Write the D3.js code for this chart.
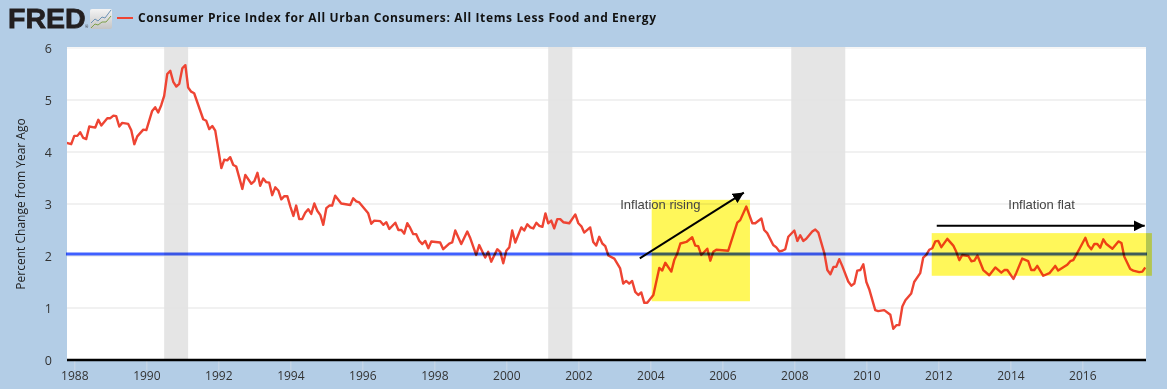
<!DOCTYPE html>
<html><head><meta charset="utf-8">
<script src="https://cdn.jsdelivr.net/npm/d3@7"></script>
<style>
html,body{margin:0;padding:0;background:#b3cde6;overflow:hidden}
svg{display:block;isolation:isolate}
text{font-family:"Open Sans",sans-serif}
</style></head><body><div id="c"></div>
<script>
// months since Jan 1988 for each vertex
const monthOffsets=[-3,-1,0,1,2,3,4,5,7,8,9,11,12,13,14,15,16,18,19,20,21,23,24,26,27,28,29,30,31,32,33,34,35,36,37,38,39,40,43,44,45,46,47,49,50,51,52,53,54,56,57,59,60,61,62,63,64,65,66,67,68,69,70,71,72,73,74,75,76,77,78,79,80,81,82,83,84,85,86,87,89,92,93,94,95,98,99,100,102,103,104,105,107,108,109,110,111,112,113,114,115,116,117,118,119,122,123,125,126,127,129,131,132,134,135,137,138,139,141,142,143,144,145,146,147,149,150,151,152,153,154,155,156,157,158,159,160,161,162,163,165,167,168,169,170,172,173,174,175,176,177,178,180,182,183,184,185,186,187,188,189,190,191,193,195,196,197,199,200,201,202,204,206,207,208,209,211,212,213,214,218,221,222,224,226,227,229,230,231,233,234,235,236,237,238,240,241,242,243,244,246,247,248,250,251,252,253,254,255,256,258,259,260,261,262,263,264,265,267,268,270,272,273,274,275,276,277,279,280,282,283,284,285,286,287,288,289,291,293,294,295,296,298,299,300,301,303,305,307,309,310,311,313,314,316,318,319,320,321,323,325,327,328,331,332,333,335,337,338,339,340,341,342,343,344,346,348,349,350,352,353,355,356,357];
const cpiValues=[4.18,4.15,4.31,4.31,4.38,4.27,4.25,4.49,4.47,4.62,4.51,4.65,4.65,4.70,4.69,4.49,4.56,4.54,4.42,4.15,4.30,4.43,4.42,4.79,4.86,4.76,4.90,5.08,5.50,5.56,5.35,5.26,5.31,5.61,5.67,5.24,5.16,5.13,4.63,4.60,4.44,4.50,4.41,3.69,3.85,3.84,3.90,3.75,3.72,3.29,3.56,3.39,3.44,3.60,3.35,3.49,3.42,3.41,3.17,3.32,3.26,3.09,3.15,3.15,2.95,2.77,2.97,2.71,2.71,2.83,2.90,2.81,3.01,2.87,2.79,2.60,2.92,2.97,2.97,3.16,3.01,2.98,3.11,3.05,3.03,2.82,2.62,2.68,2.67,2.60,2.65,2.52,2.64,2.50,2.50,2.43,2.63,2.54,2.42,2.42,2.29,2.23,2.29,2.15,2.28,2.26,2.13,2.24,2.26,2.49,2.23,2.47,2.34,2.02,2.21,1.97,2.08,1.89,2.13,2.08,1.86,2.10,2.17,2.49,2.26,2.55,2.49,2.61,2.55,2.53,2.64,2.58,2.56,2.82,2.63,2.68,2.53,2.71,2.71,2.65,2.63,2.80,2.63,2.57,2.45,2.55,2.27,2.20,2.37,2.24,2.19,2.01,1.95,1.76,1.47,1.52,1.47,1.52,1.31,1.25,1.30,1.10,1.10,1.25,1.77,1.72,1.87,1.70,1.93,2.05,2.24,2.27,2.36,2.20,2.19,2.02,2.14,1.91,2.08,2.12,2.10,2.64,2.69,2.95,2.63,2.63,2.72,2.50,2.44,2.21,2.17,2.09,2.10,2.13,2.37,2.49,2.29,2.40,2.29,2.33,2.47,2.51,2.45,2.05,1.73,1.65,1.79,1.79,1.94,1.81,1.51,1.43,1.47,1.72,1.73,1.84,1.50,1.35,0.96,0.94,0.96,0.87,0.60,0.67,0.67,1.03,1.15,1.28,1.50,1.67,1.97,2.02,2.12,2.15,2.28,2.29,2.17,2.33,2.20,2.08,1.92,2.02,2.00,1.90,1.91,2.01,1.73,1.63,1.78,1.68,1.73,1.73,1.56,1.67,1.95,1.90,1.73,1.73,1.81,1.62,1.67,1.81,1.72,1.83,1.90,1.92,2.13,2.35,2.20,2.13,2.23,2.23,2.16,2.32,2.23,2.14,2.28,2.25,1.99,1.75,1.72,1.69,1.70,1.78];
const recessions=[["1990-07-01","1991-03-01"],["2001-03-01","2001-11-01"],["2007-12-01","2009-06-01"]];
const yTicks=[0,1,2,3,4,5,6];
const titleText="Consumer Price Index for All Urban Consumers: All Items Less Food and Energy";
const yTitle="Percent Change from Year Ago";
const refLevel=2.04;
const highlights=[{x0:"2004-01-15",x1:"2006-10-08",y0:1.13,y1:3.08},{x0:"2011-10-26",x1:"2017-12-07",y0:1.62,y1:2.44}];
const arrows=[{x0:"2003-09-16",y0:1.955,x1:"2006-08-07",y1:3.22},{x0:"2011-12-16",y0:2.58,x1:"2017-09-25",y1:2.58}];
const notes=[{t:"Inflation rising",d:"2004-04-12",v:2.9},{t:"Inflation flat",d:"2014-11-13",v:2.9}];

const W=1167,H=389,L=67,R=1146,T=48,B=360;
const pd=d3.timeParse("%Y-%m-%d");
const svg=d3.select("#c").append("svg").attr("width",W).attr("height",H);
svg.append("rect").attr("width",W).attr("height",H).attr("fill","#b3cde6");
const x=d3.scaleTime().domain([new Date(1987,9,19),new Date(2017,9,8)]).range([L,R]);
const y=d3.scaleLinear().domain([0,6]).range([B,T]);

svg.append("rect").attr("x",L).attr("y",T-1).attr("width",R-L).attr("height",B-T+1).attr("fill","#fff");
svg.append("defs").append("clipPath").attr("id","p").append("rect").attr("x",L).attr("y",T-1).attr("width",R-L).attr("height",B-T+1);
const defs=svg.select("defs");
defs.append("marker").attr("id","ah").attr("markerUnits","userSpaceOnUse").attr("viewBox","0 0 12 12").attr("refX",12).attr("refY",6).attr("markerWidth",11).attr("markerHeight",11).attr("orient","auto")
  .append("path").attr("d","M0,0L12,6L0,12Z").attr("fill","#000");

// recessions
svg.append("g").selectAll("rect").data(recessions).join("rect")
  .attr("x",d=>x(pd(d[0]))).attr("width",d=>x(pd(d[1]))-x(pd(d[0])))
  .attr("y",T-1).attr("height",B-T+1).attr("fill","#e5e5e5");

// grid
svg.append("g").selectAll("line").data(yTicks.filter(d=>d>0)).join("line")
  .attr("x1",L).attr("x2",R).attr("y1",d=>y(d)).attr("y2",d=>y(d))
  .attr("stroke","#e3e3e3").attr("stroke-width",1.2)
  .attr("stroke-opacity",d=>d===6?0.6:1);

// y axis
const ya=svg.append("g").attr("transform",`translate(${L},0)`).call(d3.axisLeft(y).tickValues(yTicks).tickFormat(d3.format("d")).tickSize(0).tickPadding(15));
ya.select(".domain").remove();
ya.selectAll("text").attr("font-size",12.5).attr("fill","#333").style("font-family",'"Open Sans",sans-serif');

// x axis
const xa=svg.append("g").attr("transform",`translate(0,${B})`).call(d3.axisBottom(x).ticks(d3.timeYear.every(2)).tickFormat(d3.timeFormat("%Y")).tickSize(10).tickPadding(1));
xa.select(".domain").remove();
xa.selectAll("line").attr("stroke","#ccd9e8").attr("stroke-width",1);
xa.selectAll("text").attr("font-size",12).attr("fill","#333").style("font-family",'"Open Sans",sans-serif');
svg.append("line").attr("x1",L).attr("x2",R).attr("y1",B).attr("y2",B).attr("stroke","#000").attr("stroke-width",2.4);

// series
const dates=monthOffsets.map(m=>d3.timeMonth.offset(new Date(1988,0,1),m));
const line=d3.line().x((d,i)=>x(dates[i])).y(d=>y(d));
svg.append("path").datum(cpiValues).attr("clip-path","url(#p)").attr("fill","none").attr("stroke","#ee4433").attr("stroke-width",2.4).attr("stroke-linejoin","round").attr("d",line);

// reference level
const lvl=svg.append("g").style("mix-blend-mode","multiply");
lvl.append("line").attr("x1",L-1).attr("x2",R+1).attr("y1",y(refLevel)).attr("y2",y(refLevel)).attr("stroke","#9fb0ff").attr("stroke-width",4);
lvl.append("line").attr("x1",L-1).attr("x2",R+1).attr("y1",y(refLevel)).attr("y2",y(refLevel)).attr("stroke","#3f5fff").attr("stroke-width",2);

// highlights
svg.append("g").selectAll("rect").data(highlights).join("rect")
  .attr("x",d=>x(pd(d.x0))).attr("width",d=>x(pd(d.x1))-x(pd(d.x0)))
  .attr("y",d=>y(d.y1)).attr("height",d=>y(d.y0)-y(d.y1))
  .attr("fill","#fff75a").style("mix-blend-mode","multiply");

// arrows
svg.append("g").selectAll("line").data(arrows).join("line")
  .attr("x1",d=>x(pd(d.x0))).attr("y1",d=>y(d.y0)).attr("x2",d=>x(pd(d.x1))).attr("y2",d=>y(d.y1))
  .attr("stroke","#000").attr("stroke-width",2).attr("marker-end","url(#ah)");

// notes
svg.append("g").selectAll("text").data(notes).join("text")
  .attr("x",d=>x(pd(d.d))).attr("y",d=>y(d.v)).attr("text-anchor","middle")
  .attr("font-size",13).attr("fill","#444").style("font-family",'"Liberation Sans",sans-serif').text(d=>d.t);

// y title
svg.append("text").attr("transform","translate(25,204) rotate(-90)").attr("text-anchor","middle").attr("font-size",12).attr("fill","#222").text(yTitle);

// header: logo, icon, legend
svg.append("text").attr("x",8).attr("y",28).attr("font-size",28.5).attr("font-weight",700).attr("fill","#231f20").style("font-family",'"Liberation Sans",sans-serif').attr("stroke","#231f20").attr("stroke-width",.8).text("FRED");
svg.append("text").attr("x",85).attr("y",28).attr("font-size",4).attr("fill","#231f20").text("®");
const icon=svg.append("g").attr("transform","translate(90,9)");
const ig=defs.append("linearGradient").attr("id","ig").attr("x1",0).attr("y1",0).attr("x2",0).attr("y2",1);
ig.append("stop").attr("offset",0).attr("stop-color","#f4f4f4");ig.append("stop").attr("offset",1).attr("stop-color","#c4c4c4");
icon.append("rect").attr("width",22).attr("height",20).attr("rx",2).attr("fill","url(#ig)");
const iconBlue=[[1,14],[5,10],[8,12],[12,8],[15,9],[21,1]],iconGreen=[[1,19],[5,15],[8,16],[12,13],[16,13],[21,7]];
icon.append("path").attr("d",d3.line()(iconBlue)).attr("fill","none").attr("stroke","#6d93b5").attr("stroke-width",1);
icon.append("path").attr("d",d3.line()(iconGreen)).attr("fill","none").attr("stroke","#7ea04a").attr("stroke-width",1);
svg.append("line").attr("x1",117).attr("x2",133).attr("y1",18).attr("y2",18).attr("stroke","#ee4433").attr("stroke-width",2);
svg.append("text").attr("x",138).attr("y",22).attr("font-size",12).attr("font-weight",700).attr("letter-spacing",0.63).attr("fill","#111").text(titleText);
</script></body></html>
